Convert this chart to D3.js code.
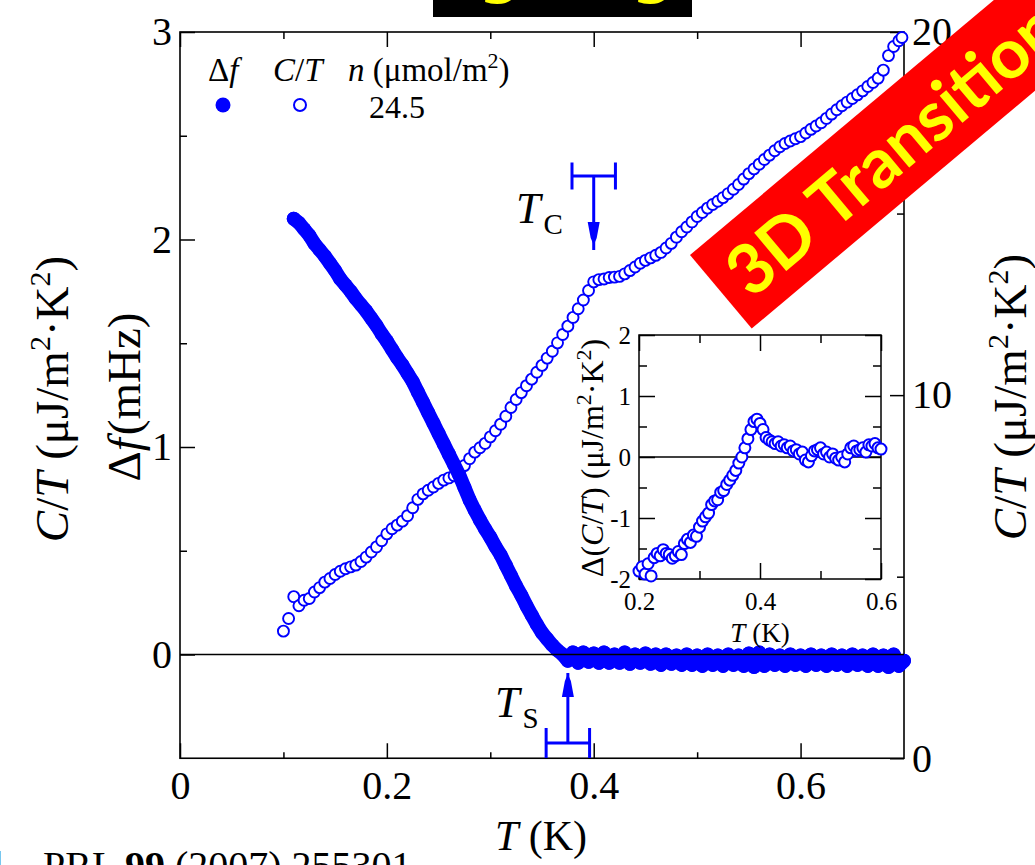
<!DOCTYPE html>
<html>
<head>
<meta charset="utf-8">
<script src="https://cdn.jsdelivr.net/npm/d3@7"></script>
<style>
  body { margin: 0; background: #fff; }
  svg { display: block; }
  text { font-family: "Liberation Serif", "Times New Roman", serif; fill: #000; }
</style>
</head>
<body>
<svg id="chart" width="1035" height="865"></svg>
<script>
// ---- Heat capacity C/T (open circles, right axis) ----
const ctT = [
  0.100,0.105,0.110,0.115,0.120,0.125,0.130,0.135,0.140,0.145,
  0.150,0.155,0.160,0.165,0.170,0.175,0.180,0.185,0.190,0.195,
  0.200,0.205,0.210,0.215,0.220,0.225,0.230,0.235,0.240,0.245,
  0.250,0.255,0.260,0.265,0.270,0.275,0.280,0.285,0.290,0.295,
  0.300,0.305,0.310,0.315,0.320,0.325,0.330,0.335,0.340,0.345,
  0.350,0.355,0.360,0.365,0.370,0.375,0.380,0.385,0.390,0.395,
  0.400,0.405,0.410,0.415,0.420,0.425,0.430,0.435,0.440,0.445,
  0.450,0.455,0.460,0.465,0.470,0.475,0.480,0.485,0.490,0.495,
  0.500,0.505,0.510,0.515,0.520,0.525,0.530,0.535,0.540,0.545,
  0.550,0.555,0.560,0.565,0.570,0.575,0.580,0.585,0.590,0.595,
  0.600,0.605,0.610,0.615,0.620,0.625,0.630,0.635,0.640,0.645,
  0.650,0.655,0.660,0.665,0.670,0.675,0.680,0.685,0.690,0.695,0.698
];
const ctVal = [
  3.50,3.85,4.45,4.20,4.35,4.40,4.58,4.70,4.85,4.95,
  5.06,5.15,5.22,5.27,5.32,5.42,5.54,5.68,5.82,5.99,
  6.18,6.32,6.42,6.53,6.68,6.90,7.13,7.28,7.38,7.47,
  7.57,7.66,7.72,7.78,7.92,8.06,8.25,8.43,8.55,8.67,
  8.85,9.02,9.20,9.42,9.66,9.88,10.07,10.26,10.44,10.63,
  10.82,11.02,11.21,11.44,11.67,11.90,12.14,12.38,12.62,12.88,
  13.12,13.18,13.20,13.24,13.25,13.27,13.34,13.43,13.53,13.63,
  13.71,13.78,13.85,13.93,14.05,14.18,14.35,14.50,14.63,14.77,
  14.92,15.03,15.15,15.25,15.34,15.44,15.55,15.67,15.80,15.95,
  16.10,16.23,16.36,16.49,16.61,16.73,16.84,16.93,17.00,17.06,
  17.12,17.22,17.32,17.41,17.50,17.62,17.74,17.86,17.97,18.07,
  18.17,18.27,18.38,18.50,18.61,18.73,18.95,19.35,19.60,19.76,19.85
];

// ---- Frequency shift Δf (filled circles, left axis) ----
const dfT = [
  0.110,0.115,0.120,0.125,0.130,0.135,0.140,0.145,0.150,0.155,
  0.160,0.165,0.170,0.175,0.180,0.185,0.190,0.195,0.200,0.205,
  0.210,0.215,0.220,0.225,0.230,0.235,0.240,0.245,0.250,0.255,
  0.260,0.265,0.270,0.275,0.280,0.285,0.290,0.295,0.300,0.305,
  0.310,0.315,0.320,0.325,0.330,0.335,0.340,0.345,0.350,0.355,
  0.360,0.365,0.370,
  0.375,0.380,0.385,0.390,0.395,0.400,0.405,0.410,0.415,0.420,
  0.425,0.430,0.435,0.440,0.445,0.450,0.455,0.460,0.465,0.470,
  0.475,0.480,0.485,0.490,0.495,0.500,0.505,0.510,0.515,0.520,
  0.525,0.530,0.535,0.540,0.545,0.550,0.555,0.560,0.565,0.570,
  0.575,0.580,0.585,0.590,0.595,0.600,0.605,0.610,0.615,0.620,
  0.625,0.630,0.635,0.640,0.645,0.650,0.655,0.660,0.665,0.670,
  0.675,0.680,0.685,0.690,0.695,0.700
];
const dfVal = [
  2.10,2.08,2.05,2.02,1.98,1.95,1.92,1.885,1.85,1.81,
  1.78,1.75,1.715,1.685,1.655,1.62,1.585,1.545,1.51,1.47,
  1.43,1.395,1.355,1.315,1.265,1.215,1.165,1.115,1.065,1.015,
  0.965,0.915,0.865,0.805,0.745,0.695,0.648,0.605,0.565,0.52,
  0.48,0.43,0.38,0.33,0.285,0.235,0.19,0.145,0.105,0.075,
  0.045,0.02,0.0,
  -0.03,0.01,-0.04,0.01,-0.035,0.005,-0.04,0.01,-0.04,0.0,
  -0.04,0.01,-0.045,0.0,-0.04,0.005,-0.045,0.0,-0.05,0.0,
  -0.045,-0.005,-0.05,0.0,-0.05,-0.005,-0.055,0.0,-0.05,-0.005,
  -0.055,0.0,-0.05,-0.005,-0.055,0.005,-0.06,0.01,-0.055,0.0,
  -0.05,-0.005,-0.055,0.0,-0.05,-0.005,-0.055,0.0,-0.05,-0.005,
  -0.055,0.0,-0.05,-0.005,-0.055,0.0,-0.05,-0.005,-0.055,0.0,
  -0.055,-0.005,-0.06,0.0,-0.055,-0.03
];

// ---- Inset: Δ(C/T) after background subtraction ----
const insT = [
  0.200,0.205,0.210,0.215,0.220,0.225,0.230,0.235,0.240,0.245,
  0.250,0.255,0.260,0.265,0.270,0.275,0.280,0.285,0.290,0.295,
  0.300,0.305,0.310,0.315,0.320,0.325,0.330,0.335,0.340,0.345,
  0.350,0.355,0.360,0.365,0.370,0.375,0.380,0.385,0.390,0.395,
  0.400,0.405,0.410,0.415,0.420,0.425,0.430,0.435,0.440,0.445,
  0.450,0.455,0.460,0.465,0.470,0.475,0.480,0.485,0.490,0.495,
  0.500,0.505,0.510,0.515,0.520,0.525,0.530,0.535,0.540,0.545,
  0.550,0.555,0.560,0.565,0.570,0.575,0.580,0.585,0.590,0.595,0.600
];
const insVal = [
  -1.87,-1.80,-1.92,-1.75,-1.95,-1.65,-1.58,-1.62,-1.52,-1.58,
  -1.60,-1.66,-1.62,-1.55,-1.60,-1.42,-1.35,-1.40,-1.28,-1.30,
  -1.15,-1.05,-0.98,-0.92,-0.78,-0.72,-0.70,-0.58,-0.55,-0.45,
  -0.38,-0.30,-0.22,-0.10,0.00,0.15,0.30,0.45,0.58,0.62,
  0.55,0.45,0.32,0.28,0.25,0.22,0.25,0.18,0.20,0.15,
  0.18,0.10,0.12,0.05,0.08,-0.05,-0.08,0.02,0.10,0.12,
  0.15,0.05,0.08,0.00,0.05,-0.02,-0.05,0.00,-0.08,0.05,
  0.15,0.18,0.10,0.12,0.15,0.08,0.20,0.18,0.22,0.15,0.13
];

// ---- Tick values ----
const xMajor = [0, 0.2, 0.4, 0.6];
const xMinor = [0.1, 0.3, 0.5];
const yLMajor = [0, 1, 2, 3];
const yLMinor = [0.5, 1.5, 2.5];
const yRMajor = [0, 10, 20];
const yRMinor = [5, 15];
const insXMajor = [0.2, 0.4, 0.6];
const insXMinor = [0.3, 0.5];
const insYMajor = [-2, -1, 0, 1, 2];
const insYMinor = [-1.5, -0.5, 0.5, 1.5];

// ---- Transition markers (temperature and its uncertainty, K) ----
const tcMark = { t: 0.400, err: 0.021 };
const tsMark = { t: 0.375, err: 0.021 };

const BLUE = "#0000ff";
const svg = d3.select("#chart");

const x  = d3.scaleLinear().domain([0, 0.7]).range([180, 904]);
const yL = d3.scaleLinear().domain([-0.5, 3]).range([758.25, 32]);
const yR = d3.scaleLinear().domain([0, 20]).range([758.25, 32]);
const ix = d3.scaleLinear().domain([0.2, 0.6]).range([639, 881]);
const iy = d3.scaleLinear().domain([-2, 2]).range([579, 335]);

const fmt = d => String(d);

function drawAxis(gen, tx, ty, fs) {
  const g = svg.append("g").attr("transform", `translate(${tx},${ty})`).call(gen);
  g.attr("font-family", null).attr("font-size", null);
  g.select(".domain").remove();
  g.selectAll(".tick line").attr("stroke", "#000").attr("stroke-width", 1.5);
  g.selectAll(".tick text").attr("font-size", fs).attr("fill", "#000");
  return g;
}

// ---------- main axes ----------
const x0 = x(0), x1 = x(0.7), yb = yL(-0.5), yt = yL(3);
drawAxis(d3.axisBottom(x).tickValues(xMajor).tickSize(-15).tickPadding(12).tickFormat(fmt), 0, yb, 40);
drawAxis(d3.axisBottom(x).tickValues(xMinor).tickSize(-6).tickFormat(""), 0, yb, 40);
drawAxis(d3.axisTop(x).tickValues(xMajor).tickSize(-15).tickFormat(""), 0, yt, 40);
drawAxis(d3.axisTop(x).tickValues(xMinor).tickSize(-7).tickFormat(""), 0, yt, 40);
drawAxis(d3.axisLeft(yL).tickValues(yLMajor).tickSize(-15).tickPadding(8).tickFormat(fmt), x0, 0, 40);
drawAxis(d3.axisLeft(yL).tickValues(yLMinor).tickSize(-7).tickFormat(""), x0, 0, 40);
drawAxis(d3.axisRight(yR).tickValues(yRMajor).tickSize(-14).tickPadding(8).tickFormat(fmt), x1, 0, 40);
drawAxis(d3.axisRight(yR).tickValues(yRMinor).tickSize(-7).tickFormat(""), x1, 0, 40);

svg.append("rect").attr("x", x0).attr("y", yt).attr("width", x1 - x0).attr("height", yb - yt)
  .attr("fill", "none").attr("stroke", "#000").attr("stroke-width", 1.6);

// ---------- C/T data ----------
const ctData = ctT.map((t, i) => ({ t, v: ctVal[i] }));
svg.append("g").selectAll("circle").data(ctData).join("circle")
  .attr("cx", d => x(d.t)).attr("cy", d => yR(d.v)).attr("r", 5.5)
  .attr("fill", "#fff").attr("stroke", BLUE).attr("stroke-width", 1.9);

// ---------- Δf data ----------
const dfData = dfT.map((t, i) => ({ t, v: dfVal[i] }));
svg.append("path").datum(dfData)
  .attr("d", d3.line().x(d => x(d.t)).y(d => yL(d.v)))
  .attr("fill", "none").attr("stroke", BLUE).attr("stroke-width", 14)
  .attr("stroke-linejoin", "round").attr("stroke-linecap", "round");
svg.append("g").selectAll("circle").data(dfData).join("circle")
  .attr("cx", d => x(d.t)).attr("cy", d => yL(d.v)).attr("r", 7).attr("fill", BLUE);

// zero line
svg.append("line").attr("x1", x0).attr("x2", x1).attr("y1", yL(0)).attr("y2", yL(0))
  .attr("stroke", "#000").attr("stroke-width", 1.6);

// ---------- inset ----------
const ix0 = ix(0.2), ix1 = ix(0.6), iyb = iy(-2), iyt = iy(2);
svg.append("rect").attr("x", ix0).attr("y", iyt).attr("width", ix1 - ix0).attr("height", iyb - iyt).attr("fill", "#fff");
drawAxis(d3.axisBottom(ix).tickValues(insXMajor).tickSize(-16).tickPadding(13).tickFormat(fmt), 0, iyb, 25);
drawAxis(d3.axisBottom(ix).tickValues(insXMinor).tickSize(-8).tickFormat(""), 0, iyb, 25);
drawAxis(d3.axisTop(ix).tickValues(insXMajor).tickSize(-16).tickFormat(""), 0, iyt, 25);
drawAxis(d3.axisTop(ix).tickValues(insXMinor).tickSize(-8).tickFormat(""), 0, iyt, 25);
drawAxis(d3.axisLeft(iy).tickValues(insYMajor).tickSize(-16).tickPadding(8).tickFormat(fmt), ix0, 0, 25);
drawAxis(d3.axisLeft(iy).tickValues(insYMinor).tickSize(-8).tickFormat(""), ix0, 0, 25);
drawAxis(d3.axisRight(iy).tickValues(insYMajor).tickSize(-16).tickFormat(""), ix1, 0, 25);
drawAxis(d3.axisRight(iy).tickValues(insYMinor).tickSize(-8).tickFormat(""), ix1, 0, 25);
svg.append("line").attr("x1", ix0).attr("x2", ix1).attr("y1", iy(0)).attr("y2", iy(0))
  .attr("stroke", "#000").attr("stroke-width", 1.5);
svg.append("rect").attr("x", ix0).attr("y", iyt).attr("width", ix1 - ix0).attr("height", iyb - iyt)
  .attr("fill", "none").attr("stroke", "#000").attr("stroke-width", 1.5);

const insData = insT.map((t, i) => ({ t, v: insVal[i] }));
svg.append("g").selectAll("circle").data(insData).join("circle")
  .attr("cx", d => ix(d.t)).attr("cy", d => iy(d.v)).attr("r", 5.5)
  .attr("fill", "#fff").attr("stroke", BLUE).attr("stroke-width", 2);

// inset axis titles
const itx = svg.append("text").attr("x", 760).attr("y", 642).attr("text-anchor", "middle").attr("font-size", 27);
itx.append("tspan").attr("font-style", "italic").text("T");
itx.append("tspan").text(" (K)");

const ity = svg.append("text").attr("transform", "translate(603,458) rotate(-90)")
  .attr("text-anchor", "middle").attr("font-size", 32);
ity.append("tspan").text("Δ(");
ity.append("tspan").attr("font-style", "italic").text("C");
ity.append("tspan").text("/");
ity.append("tspan").attr("font-style", "italic").text("T");
ity.append("tspan").text(") (μJ/m");
ity.append("tspan").attr("font-size", 22).attr("dy", -12).text("2");
ity.append("tspan").attr("dy", 12).text("·K");
ity.append("tspan").attr("font-size", 22).attr("dy", -12).text("2");
ity.append("tspan").attr("dy", 12).text(")");

// ---------- axis titles ----------
function ctTitle(tx, ty) {
  const t = svg.append("text").attr("transform", `translate(${tx},${ty}) rotate(-90)`)
    .attr("text-anchor", "middle").attr("font-size", 47);
  t.append("tspan").attr("font-style", "italic").text("C");
  t.append("tspan").text("/");
  t.append("tspan").attr("font-style", "italic").text("T");
  t.append("tspan").text(" (μJ/m");
  t.append("tspan").attr("font-size", 30).attr("dy", -18).text("2");
  t.append("tspan").attr("dy", 18).text("·K");
  t.append("tspan").attr("font-size", 30).attr("dy", -18).text("2");
  t.append("tspan").attr("dy", 18).text(")");
}
ctTitle(68, 399);
ctTitle(1026, 397);

const dfTitle = svg.append("text").attr("transform", "translate(140,397) rotate(-90)")
  .attr("text-anchor", "middle").attr("font-size", 47);
dfTitle.append("tspan").text("Δ");
dfTitle.append("tspan").attr("font-style", "italic").text("f");
dfTitle.append("tspan").attr("dx", 3).text("(mHz)");

const xTitle = svg.append("text").attr("x", 541).attr("y", 850).attr("text-anchor", "middle").attr("font-size", 42);
xTitle.append("tspan").attr("font-style", "italic").text("T");
xTitle.append("tspan").text(" (K)");

// ---------- transition markers ----------
function marker(m, yBar, capHalf, yTip, yHead, up) {
  const g = svg.append("g").attr("stroke", BLUE).attr("stroke-width", 3).attr("fill", "none");
  const xl = x(m.t - m.err), xr = x(m.t + m.err), xc = x(m.t);
  g.append("line").attr("x1", xl).attr("x2", xr).attr("y1", yBar).attr("y2", yBar);
  g.append("line").attr("x1", xl).attr("x2", xl).attr("y1", yBar - capHalf).attr("y2", yBar + capHalf);
  g.append("line").attr("x1", xr).attr("x2", xr).attr("y1", yBar - capHalf).attr("y2", yBar + capHalf);
  g.append("line").attr("x1", xc).attr("x2", xc).attr("y1", yBar).attr("y2", yTip);
  const s = up ? -1 : 1;
  const pts = [[xc - 6, yHead], [xc + 6, yHead], [xc + 3, yHead + s * 16], [xc, yHead + s * 23], [xc - 3, yHead + s * 16]];
  svg.append("polygon").attr("points", pts.map(p => p.join(",")).join(" ")).attr("fill", BLUE);
}
marker(tcMark, 176, 13.5, 250, 222, false);
marker(tsMark, 743, 15, 673, 697, true);

function subLabel(xp, yp, main, sub) {
  const t = svg.append("text").attr("x", xp).attr("y", yp).attr("font-size", 44);
  t.append("tspan").attr("font-style", "italic").text(main);
  t.append("tspan").attr("font-size", 29).attr("dx", 3).attr("dy", 11).text(sub);
}
subLabel(516, 223, "T", "C");
subLabel(495, 717, "T", "S");

// ---------- legend ----------
const lg1 = svg.append("text").attr("x", 208).attr("y", 81).attr("font-size", 33);
lg1.append("tspan").text("Δ");
lg1.append("tspan").attr("font-style", "italic").text("f");
const lg2 = svg.append("text").attr("x", 273).attr("y", 81).attr("font-size", 33);
lg2.append("tspan").attr("font-style", "italic").text("C");
lg2.append("tspan").text("/");
lg2.append("tspan").attr("font-style", "italic").text("T");
const lg3 = svg.append("text").attr("x", 348).attr("y", 81).attr("font-size", 33);
lg3.append("tspan").attr("font-style", "italic").text("n");
lg3.append("tspan").text(" (μmol/m");
lg3.append("tspan").attr("font-size", 22).attr("dy", -13).text("2");
lg3.append("tspan").attr("dy", 13).text(")");
svg.append("circle").attr("cx", 223).attr("cy", 105).attr("r", 7.5).attr("fill", BLUE);
svg.append("circle").attr("cx", 300).attr("cy", 105).attr("r", 6).attr("fill", "#fff")
  .attr("stroke", BLUE).attr("stroke-width", 2);
svg.append("text").attr("x", 369).attr("y", 118).attr("font-size", 32).text("24.5");

// ---------- reference line at the bottom ----------
svg.append("text").attr("x", 14).attr("y", 879).attr("text-anchor", "end").attr("font-size", 40).text("et al.");
const ref = svg.append("text").attr("x", 43).attr("y", 879).attr("font-size", 40);
ref.append("tspan").text("PRL ");
ref.append("tspan").attr("font-weight", "bold").text("99");
ref.append("tspan").text(" (2007) 255301");

// ---------- title box at the top ----------
svg.append("rect").attr("x", 433).attr("y", 0).attr("width", 259).attr("height", 17).attr("fill", "#000");
[500, 653].forEach(cx => {
  svg.append("text").attr("x", cx).attr("y", -9).attr("text-anchor", "middle")
    .style("font-family", "'DejaVu Sans', sans-serif").style("font-weight", "bold")
    .style("font-size", "60px").style("fill", "#ffff00").text("g");
});

// ---------- banner ----------
const banner = svg.append("g").attr("transform", "translate(690,255) rotate(-40)");
banner.append("rect").attr("x", 0).attr("y", 0).attr("width", 620).attr("height", 96).attr("fill", "#ff0000");
banner.append("text").attr("x", 18).attr("y", 74)
  .style("font-family", "Lato, 'Open Sans', sans-serif").style("font-weight", "bold")
  .style("font-size", "69px").style("fill", "#ffff00").text("3D Transition");
</script>
</body>
</html>
